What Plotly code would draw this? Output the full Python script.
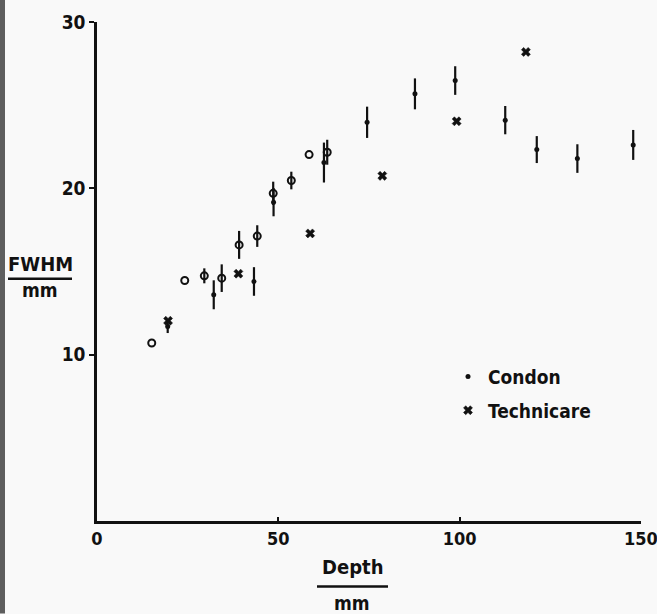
import plotly.graph_objects as go

# FWHM of the beam profile against depth for two ultrasound scanners.

# Condon, solid points with error bars
condon_depth = [19.5, 32.2, 43.3, 48.7, 62.6, 74.5, 87.7, 98.8, 112.6, 121.3, 132.5, 147.9]
condon_fwhm = [11.7, 13.6, 14.4, 19.17, 21.55, 23.97, 25.68, 26.48, 24.1, 22.33, 21.79, 22.61]
condon_err = [0.4, 0.87, 0.86, 0.85, 1.2, 0.94, 0.93, 0.86, 0.85, 0.81, 0.86, 0.9]

# Condon, open-ring points (second set of measurements)
ring_depth = [15.1, 24.2, 29.6, 34.4, 39.2, 44.2, 48.6, 53.6, 58.5, 63.5]
ring_fwhm = [10.7, 14.46, 14.74, 14.6, 16.6, 17.13, 19.7, 20.47, 22.03, 22.17]
ring_err = [0.0, 0.0, 0.45, 0.83, 0.84, 0.65, 0.7, 0.53, 0.0, 0.75]

# Technicare
tech_depth = [19.6, 39.0, 58.8, 78.7, 99.2, 118.3]
tech_fwhm = [12.04, 14.87, 17.29, 20.75, 24.03, 28.2]

x_ticks = [0, 50, 100, 150]
y_ticks = [10, 20, 30]

FONT = "DejaVu Sans Condensed, DejaVu Sans, sans-serif"
INK = "#111111"
BG = "#f9f9f9"

fig = go.Figure()

fig.add_trace(go.Scatter(
    x=ring_depth, y=ring_fwhm, mode="markers", name="Condon (ring)",
    showlegend=False,
    marker=dict(symbol="circle-open", size=7, color=INK, line=dict(width=2, color=INK)),
    error_y=dict(type="data", array=ring_err, visible=True, width=0,
                 thickness=2.2, color=INK),
))

fig.add_trace(go.Scatter(
    x=condon_depth, y=condon_fwhm, mode="markers", name="Condon",
    legendgroup="a",
    marker=dict(symbol="circle", size=5, color=INK),
    error_y=dict(type="data", array=condon_err, visible=True, width=0,
                 thickness=2.2, color=INK),
))

fig.add_trace(go.Scatter(
    x=tech_depth, y=tech_fwhm, mode="markers", name="Technicare",
    legendgroup="b",
    marker=dict(symbol="x", size=8, color=INK, line=dict(width=0.5, color=INK)),
))

L, R, T, B = 97, 16, 22, 92.5
W, H = 657, 614
pw, ph = W - L - R, H - T - B


def px(xp):
    return (xp - L) / pw


def py(yp):
    return (H - B - yp) / ph


def label(text, x, y, size=20):
    return dict(text=text, x=px(x), y=py(y), xref="paper", yref="paper",
                xanchor="center", yanchor="middle", showarrow=False,
                font=dict(size=size, family=FONT, color=INK, weight="bold"))


annotations = [
    label("FWHM", 40, 264),
    label("mm", 40, 290, 19),
    label("Depth", 352, 568),
    label("mm", 352, 604, 19),
]

shapes = [
    # fraction bars under the axis titles
    dict(type="line", xref="paper", yref="paper", x0=px(8), x1=px(72),
         y0=py(279), y1=py(279), line=dict(color=INK, width=2.5)),
    dict(type="line", xref="paper", yref="paper", x0=px(317), x1=px(388),
         y0=py(587), y1=py(587), line=dict(color=INK, width=2.5)),
    # dark scan edge on the left
    dict(type="rect", xref="paper", yref="paper", x0=px(0), x1=px(5),
         y0=py(H), y1=py(0), line=dict(width=0), fillcolor="#5e5e5e"),
]

fig.update_layout(
    width=W, height=H,
    margin=dict(l=L, r=R, t=T, b=B, autoexpand=False),
    paper_bgcolor=BG, plot_bgcolor=BG,
    font=dict(family=FONT, size=20, color=INK, weight="bold"),
    showlegend=True,
    legend=dict(x=px(448), y=py(358), xanchor="left", yanchor="top",
                bgcolor="rgba(0,0,0,0)",
                font=dict(size=19, family=FONT, weight="bold"),
                traceorder="grouped", tracegroupgap=6, itemwidth=30),
    annotations=annotations,
    shapes=shapes,
    xaxis=dict(range=[0, 150.05], tickvals=x_ticks, showgrid=False, zeroline=False,
               showline=True, linecolor=INK, linewidth=2.5,
               ticks="inside", ticklen=4, tickwidth=2, tickcolor=INK,
               ticklabeloverflow="allow", automargin=False,
               tickfont=dict(size=18, family=FONT, color=INK, weight="bold")),
    yaxis=dict(range=[0, 30], tickvals=y_ticks, showgrid=False, zeroline=False,
               showline=True, linecolor=INK, linewidth=2.5,
               ticks="outside", ticklen=5, tickwidth=2, tickcolor=INK,
               automargin=False,
               tickfont=dict(size=19, family=FONT, color=INK, weight="bold")),
)

fig.write_html("out.html")
